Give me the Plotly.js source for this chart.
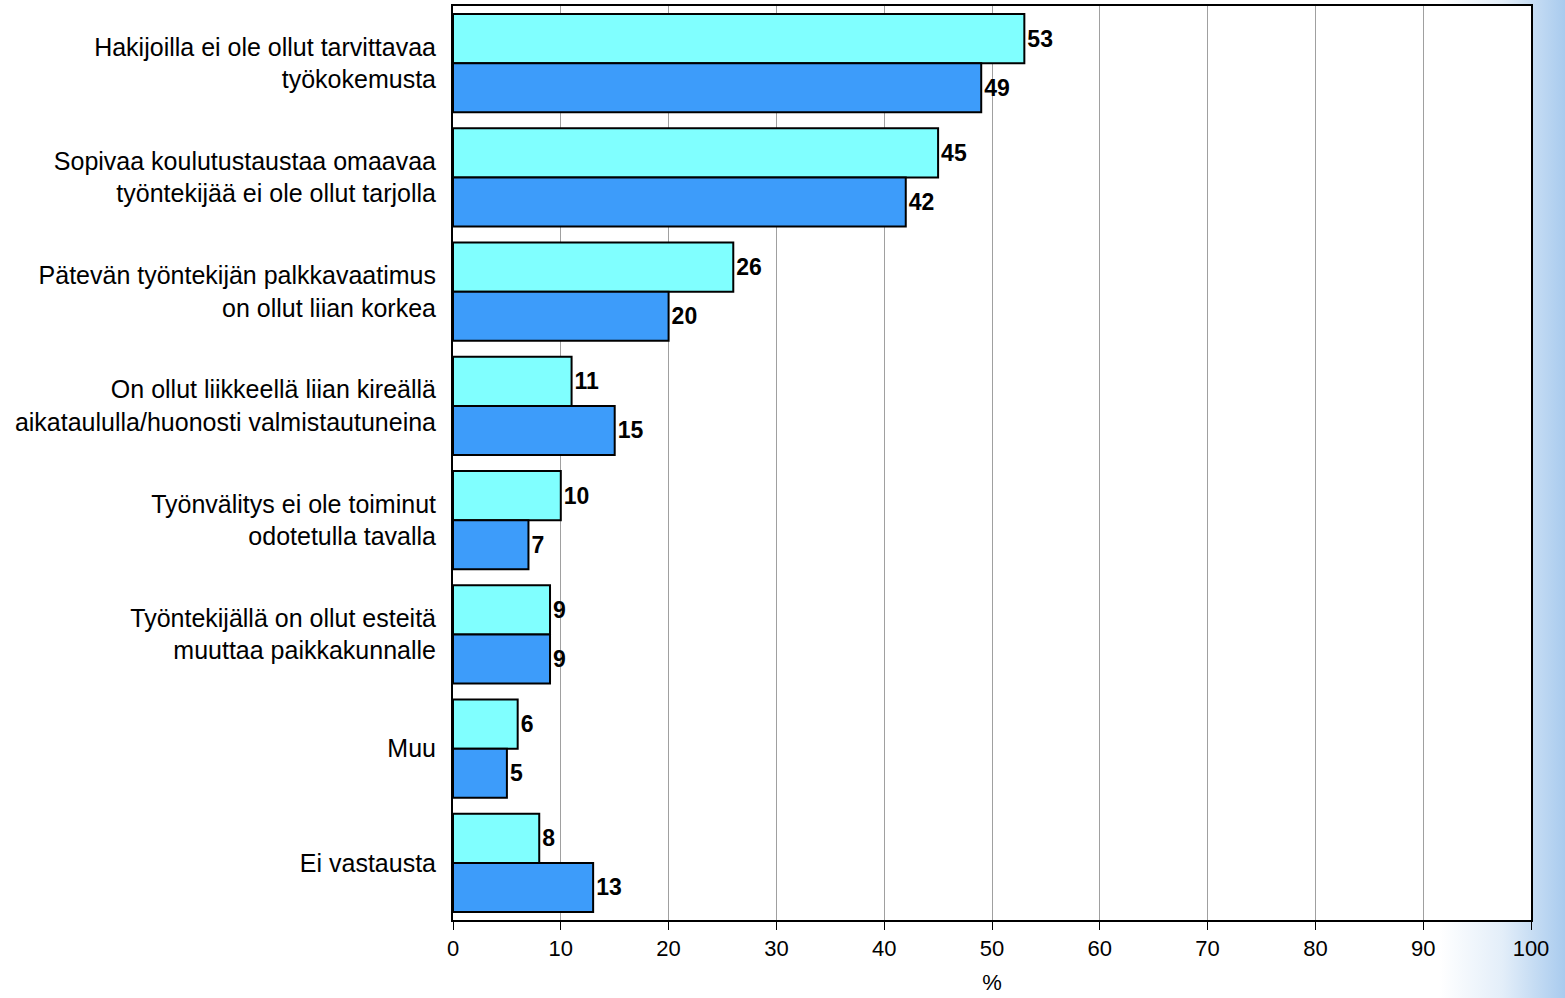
<!DOCTYPE html>
<html>
<head>
<meta charset="utf-8">
<script src="https://cdn.plot.ly/plotly-3.0.1.min.js"></script>
<style>
  html, body { margin: 0; padding: 0; }
  body { width: 1565px; height: 998px;
    background: linear-gradient(to right, #ffffff 0%, #ffffff 92%, #e3eef9 96%, #a9cbee 100%); }
</style>
</head>
<body>
<div id="chart" style="width:1565px;height:998px;"></div>
<script>
var categories = [
  'Hakijoilla ei ole ollut tarvittavaa<br>työkokemusta',
  'Sopivaa koulutustaustaa omaavaa<br>työntekijää ei ole ollut tarjolla',
  'Pätevän työntekijän palkkavaatimus<br>on ollut liian korkea',
  'On ollut liikkeellä liian kireällä<br>aikataululla/huonosti valmistautuneina',
  'Työnvälitys ei ole toiminut<br>odotetulla tavalla',
  'Työntekijällä on ollut esteitä<br>muuttaa paikkakunnalle',
  'Muu',
  'Ei vastausta'
];
var seriesA = [53, 45, 26, 11, 10, 9, 6, 8];
var seriesB = [49, 42, 20, 15, 7, 9, 5, 13];

function bar(vals, color) {
  return {
    type: 'bar', orientation: 'h', x: vals, y: categories,
    marker: { color: color, line: { color: '#000', width: 2 } },
    text: vals.map(String), textposition: 'outside', cliponaxis: false,
    textfont: { family: 'Liberation Sans, Arial', size: 23, color: '#000', weight: 'bold' },
    hoverinfo: 'x'
  };
}

var layout = {
  paper_bgcolor: 'rgba(0,0,0,0)',
  plot_bgcolor: '#ffffff',
  margin: { l: 453, r: 34, t: 6, b: 78 },
  showlegend: false,
  barmode: 'group', bargap: 0.14, bargroupgap: 0,
  font: { family: 'Liberation Sans, Arial', size: 22, color: '#000' },
  xaxis: {
    range: [0, 100], dtick: 10, showgrid: true, gridcolor: '#a0a0a0', gridwidth: 1,
    showline: true, linecolor: '#000', linewidth: 2, mirror: true,
    ticks: 'outside', ticklen: 8, tickcolor: '#000', zeroline: false,
    tickfont: { size: 22 },
    title: { text: '%', standoff: 14, font: { size: 22 } }
  },
  yaxis: {
    autorange: 'reversed', showline: true, linecolor: '#000', linewidth: 2, mirror: true,
    ticks: '', ticklabelstandoff: 10, tickfont: { size: 25 }
  }
};

Plotly.newPlot('chart', [bar(seriesA, '#80ffff'), bar(seriesB, '#3d9cfa')], layout, { staticPlot: true });
</script>
</body>
</html>
